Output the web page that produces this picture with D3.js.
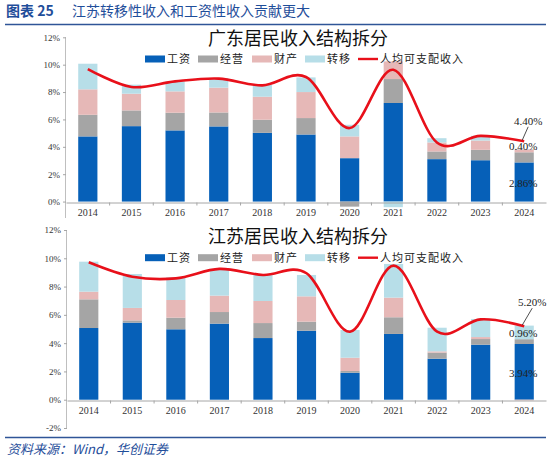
<!DOCTYPE html>
<html>
<head>
<meta charset="utf-8">
<script src="https://cdn.jsdelivr.net/npm/d3@7"></script>
<style>
  body { margin: 0; background: #fff; }
  svg { display: block; }
  .tick text { font-family: "Liberation Serif", "Times New Roman", serif; }
</style>
</head>
<body>
<div id="chart"></div>
<script>
// ---- data (%) ----
const years = ["2014", "2015", "2016", "2017", "2018", "2019", "2020", "2021", "2022", "2023", "2024"];
const seriesNames = ["工资", "经营", "财产", "转移"];
const lineName = "人均可支配收入";

// 广东
const gdWage   = [4.76, 5.51, 5.20, 5.49, 5.02, 4.90, 3.17, 7.20, 3.10, 3.02, 2.86];
const gdBiz    = [1.58, 1.15, 1.29, 1.02, 0.96, 1.20, -0.37, 1.75, 0.56, 0.76, 0.74];
const gdProp   = [1.86, 1.22, 1.56, 1.81, 1.68, 1.90, 1.59, 1.29, 0.66, 0.68, 0.22];
const gdTrans  = [1.87, 0.66, 0.73, 0.70, 0.88, 1.07, 0.85, -0.41, 0.31, 0.34, 0.02];
const gdIncome = [9.68, 8.37, 8.78, 8.98, 8.49, 9.10, 5.37, 9.63, 4.32, 4.80, 4.40];

// 江苏
const jsWage   = [5.07, 5.45, 4.98, 5.38, 4.36, 4.88, 1.91, 4.65, 2.90, 3.89, 3.94];
const jsBiz    = [2.03, 0.16, 0.82, 0.82, 1.06, 0.64, 0.12, 1.18, 0.43, 0.40, 0.34];
const jsProp   = [0.54, 0.88, 1.25, 1.16, 1.56, 1.79, 0.94, 1.39, 0.09, 0.14, -0.05];
const jsTrans  = [2.12, 2.40, 1.61, 1.89, 1.84, 1.51, 1.96, 2.38, 1.67, 1.28, 0.96];
const jsIncome = [9.72, 8.70, 8.58, 9.25, 8.82, 8.94, 4.81, 9.48, 4.81, 5.68, 5.20];

const gdTicks = [0, 2, 4, 6, 8, 10, 12];
const jsTicks = [-2, 0, 2, 4, 6, 8, 10, 12];

// 2024 data labels: text + where it sits (data units)
const gdNotes = [
  { text: "4.40%", y: 5.9, dx: 4, lead: 4.40 },
  { text: "0.40%", y: 4.07, dx: -1 },
  { text: "2.86%", y: 1.36, dx: -1 }
];
const jsNotes = [
  { text: "5.20%", y: 6.9, dx: 8, lead: 5.20 },
  { text: "0.96%", y: 4.71, dx: -1 },
  { text: "3.94%", y: 1.89, dx: -1 }
];

const colors = ["#0660B8", "#A5A5A5", "#E6B8B7", "#B7DEE8"];
const lineColor = "#E8101A";
const W = 550, H = 462;

const svg = d3.select("#chart").append("svg").attr("width", W).attr("height", H);

// header
svg.append("text")
  .attr("x", 6).attr("y", 16)
  .attr("fill", "#1F4E9A")
  .style("font-family", "'Noto Sans CJK SC', sans-serif")
  .style("font-size", "14px").style("font-weight", 700)
  .text("图表 25");
svg.append("text")
  .attr("x", 72).attr("y", 16)
  .attr("fill", "#1F4E9A")
  .style("font-family", "'Noto Sans CJK SC', sans-serif")
  .style("font-size", "14px")
  .text("江苏转移性收入和工资性收入贡献更大");
svg.append("line").attr("x1", 5).attr("x2", 546).attr("y1", 24.5).attr("y2", 24.5)
  .attr("stroke", "#2F5597").attr("stroke-width", 1.6);

// footer
svg.append("line").attr("x1", 5).attr("x2", 546).attr("y1", 437.5).attr("y2", 437.5)
  .attr("stroke", "#2F5597").attr("stroke-width", 1.4);
svg.append("text")
  .attr("x", 7).attr("y", 454)
  .attr("fill", "#1F4E9A")
  .style("font-family", "'Noto Sans CJK SC', sans-serif")
  .style("font-size", "13px").style("font-style", "italic")
  .text("资料来源：Wind，华创证券");

function drawPanel(p) {
  const g = svg.append("g");

  const x = d3.scaleBand().domain(years).range([p.x0, p.x1]).paddingInner(0.56).paddingOuter(0.28);
  const y = d3.scaleLinear().domain([p.yMin, 12]).range([p.yBottom, p.yTop]);

  const rows = years.map((yr, i) => ({
    year: yr,
    "工资": p.wage[i], "经营": p.biz[i], "财产": p.prop[i], "转移": p.trans[i]
  }));
  const stacked = d3.stack().keys(seriesNames).offset(d3.stackOffsetDiverging)(rows);

  // y axis
  const yAxisG = g.append("g")
    .attr("transform", `translate(${p.x0},0)`)
    .call(d3.axisLeft(y).tickValues(p.ticks).tickSize(3).tickPadding(3).tickFormat(d => d + "%"));
  yAxisG.select(".domain").attr("stroke", "#BFBFBF").attr("d", `M-0.5,${p.yBottom}V${p.yTop}`);
  yAxisG.selectAll(".tick line").attr("stroke", "#A6A6A6");
  yAxisG.selectAll(".tick text").attr("fill", "#333").style("font-size", "9px");

  // bars
  g.append("g").selectAll("g")
    .data(stacked)
    .join("g")
    .attr("fill", (d, i) => colors[i])
    .selectAll("rect")
    .data(d => d)
    .join("rect")
    .attr("x", d => x(d.data.year))
    .attr("width", x.bandwidth())
    .attr("y", d => y(Math.max(d[0], d[1])))
    .attr("height", d => Math.abs(y(d[0]) - y(d[1])));

  // x axis at zero
  const y0 = Math.round(y(0)) + 0.5;
  const xAxisG = g.append("g")
    .attr("transform", `translate(0,${y0})`)
    .call(d3.axisBottom(x).tickSize(0).tickPadding(6));
  xAxisG.select(".domain").attr("stroke", "#A6A6A6");
  xAxisG.selectAll(".tick text").attr("fill", "#333").style("font-size", "10px");
  const step = x.step();
  g.append("g").selectAll("line")
    .data(years.slice(1))
    .join("line")
    .attr("x1", d => x(d) - (step - x.bandwidth()) / 2)
    .attr("x2", d => x(d) - (step - x.bandwidth()) / 2)
    .attr("y1", y0).attr("y2", y0 + 3)
    .attr("stroke", "#A6A6A6");

  // income line (Excel-style smoothing)
  const line = d3.line()
    .x((d, i) => x(years[i]) + x.bandwidth() / 2)
    .y(d => y(d))
    .curve(d3.curveCardinal.tension(0));
  g.append("path")
    .datum(p.income)
    .attr("fill", "none")
    .attr("stroke", lineColor)
    .attr("stroke-width", 2.6)
    .attr("d", line);

  // title
  g.append("text")
    .attr("x", 298).attr("y", p.titleY)
    .attr("text-anchor", "middle")
    .attr("fill", "#111")
    .style("font-family", "'Noto Sans CJK SC', sans-serif")
    .style("font-size", "18px")
    .text(p.title);

  // legend
  const legendItems = [
    { name: "工资", c: colors[0], x: 145 },
    { name: "经营", c: colors[1], x: 198 },
    { name: "财产", c: colors[2], x: 252 },
    { name: "转移", c: colors[3], x: 305 },
    { name: lineName, c: lineColor, x: 358, line: true }
  ];
  const lg = g.append("g").selectAll("g")
    .data(legendItems)
    .join("g")
    .attr("transform", d => `translate(${d.x},${p.legendY})`);
  lg.filter(d => !d.line).append("rect")
    .attr("x", 0).attr("y", -3.5).attr("width", 20).attr("height", 7)
    .attr("fill", d => d.c);
  lg.filter(d => d.line).append("line")
    .attr("x1", 0).attr("x2", 20).attr("y1", 0).attr("y2", 0)
    .attr("stroke", d => d.c).attr("stroke-width", 2.4);
  lg.append("text")
    .attr("x", 22).attr("y", 4)
    .attr("fill", "#222")
    .style("font-family", "'Noto Sans CJK SC', sans-serif")
    .style("font-size", "11px")
    .style("letter-spacing", "1px")
    .text(d => d.name);

  // 2024 notes
  const cx = x("2024") + x.bandwidth() / 2;
  p.notes.forEach(n => {
    g.append("text")
      .attr("x", cx + n.dx).attr("y", y(n.y) + 4)
      .attr("text-anchor", "middle")
      .attr("fill", "#222")
      .style("font-family", "'Liberation Serif', 'Times New Roman', serif")
      .style("font-size", "11px")
      .text(n.text);
    if (n.lead != null) {
      g.append("line")
        .attr("x1", cx + n.dx).attr("y1", y(n.y) + 6)
        .attr("x2", cx - 2).attr("y2", y(n.lead) - 1)
        .attr("stroke", "#222").attr("stroke-width", 0.8);
    }
  });
}

drawPanel({
  title: "广东居民收入结构拆分", titleY: 45, legendY: 59,
  x0: 66, x1: 546, yTop: 37.3, yBottom: 218, yMin: -1.2,
  ticks: gdTicks,
  wage: gdWage, biz: gdBiz, prop: gdProp, trans: gdTrans, income: gdIncome,
  notes: gdNotes
});

drawPanel({
  title: "江苏居民收入结构拆分", titleY: 243, legendY: 257.7,
  x0: 67, x1: 546, yTop: 230, yBottom: 428, yMin: -2,
  ticks: jsTicks,
  wage: jsWage, biz: jsBiz, prop: jsProp, trans: jsTrans, income: jsIncome,
  notes: jsNotes
});
</script>
</body>
</html>
